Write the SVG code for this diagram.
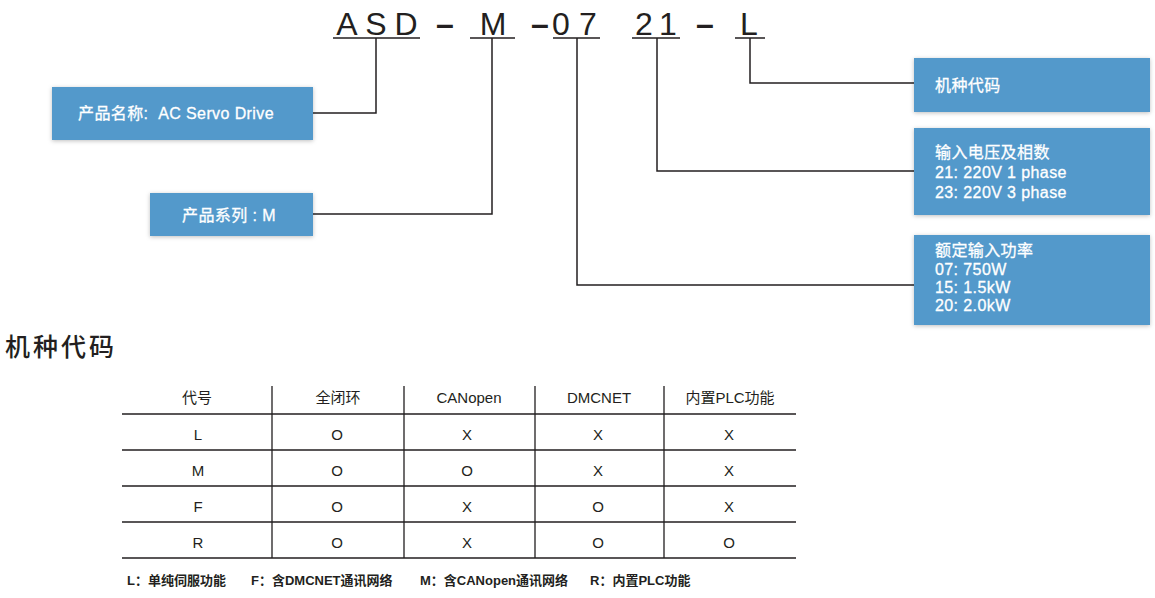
<svg xmlns="http://www.w3.org/2000/svg" width="1155" height="598" viewBox="0 0 1155 598">
<style>
.code{font-family:"Liberation Sans",Arial,sans-serif;font-size:32px;fill:#231f20;text-anchor:middle}
.dash{font-weight:bold}
.box{fill:#5299cb;filter:url(#sh)}
.bt{font-family:"Liberation Sans","Noto Sans CJK SC",sans-serif;font-size:16px;fill:#fff;stroke:#fff;stroke-width:0.3;letter-spacing:0.4px}
.ln{stroke:#231f20;stroke-width:1.5;fill:none}
.tl{stroke:#231f20;stroke-width:1.3;fill:none}
.tt{font-family:"Liberation Sans","Noto Sans CJK SC",sans-serif;font-size:15px;fill:#231f20;text-anchor:middle}
.ttl{font-family:"Noto Sans CJK SC",sans-serif;font-size:25px;font-weight:500;fill:#231f20;letter-spacing:3px}
.fn{font-family:"Liberation Sans","Noto Sans CJK SC",sans-serif;font-size:13px;fill:#231f20;font-weight:bold}
</style>
<defs>
<filter id="sh" x="-10%" y="-20%" width="120%" height="140%">
<feDropShadow dx="0" dy="1" stdDeviation="2" flood-color="#000" flood-opacity="0.25"/>
</filter>
</defs>
<rect width="1155" height="598" fill="#fff"/>
<g id="code">
<text class="code" x="347" y="35">A</text>
<text class="code" x="376" y="35">S</text>
<text class="code" x="406" y="35">D</text>
<text class="code dash" x="445" y="35">–</text>
<text class="code" x="493" y="35">M</text>
<text class="code dash" x="540" y="35">–</text>
<text class="code" x="561" y="35">0</text>
<text class="code" x="588" y="35">7</text>
<text class="code" x="644" y="35">2</text>
<text class="code" x="668" y="35">1</text>
<text class="code dash" x="705" y="35">–</text>
<text class="code" x="749" y="35">L</text>
<path class="ln" d="M333 38H420M470 38H515M553 38H600M632 38H680M735 38H765"/>
</g>
<g id="connectors">
<path class="ln" d="M376 38V113H313"/>
<path class="ln" d="M492 38V214H313"/>
<path class="ln" d="M750 38V83H914"/>
<path class="ln" d="M657 38V171H914"/>
<path class="ln" d="M577 38V285H914"/>
</g>
<g id="name">
<rect class="box" x="52" y="87" width="261" height="53"/>
<text class="bt" x="78" y="119" xml:space="preserve">产品名称:  AC Servo Drive</text>
</g>
<g id="series">
<rect class="box" x="150" y="193" width="163" height="43"/>
<text class="bt" x="182" y="221">产品系列 : M</text>
</g>
<g id="model">
<rect class="box" x="914" y="58" width="236" height="54"/>
<text class="bt" x="935" y="91">机种代码</text>
</g>
<g id="voltage">
<rect class="box" x="914" y="128" width="236" height="87"/>
<text class="bt" x="935" y="158">输入电压及相数</text>
<text class="bt" x="935" y="178">21: 220V 1 phase</text>
<text class="bt" x="935" y="198">23: 220V 3 phase</text>
</g>
<g id="power">
<rect class="box" x="914" y="235" width="236" height="90"/>
<text class="bt" x="935" y="256">额定输入功率</text>
<text class="bt" x="935" y="275">07: 750W</text>
<text class="bt" x="935" y="293">15: 1.5kW</text>
<text class="bt" x="935" y="311">20: 2.0kW</text>
</g>
<g id="table">
<text class="ttl" x="5" y="356">机种代码</text>
<path class="tl" d="M122 414H796M122 450H796M122 486H796M122 522H796M122 558H796M272 386V558M404 386V558M535 386V558M664 386V558"/>
<text class="tt" x="197" y="403">代号</text>
<text class="tt" x="338" y="403">全闭环</text>
<text class="tt" x="469" y="403">CANopen</text>
<text class="tt" x="599" y="403">DMCNET</text>
<text class="tt" x="730" y="403">内置PLC功能</text>
<text class="tt" x="198" y="440">L</text><text class="tt" x="337" y="440">O</text><text class="tt" x="467" y="440">X</text><text class="tt" x="598" y="440">X</text><text class="tt" x="729" y="440">X</text>
<text class="tt" x="198" y="476">M</text><text class="tt" x="337" y="476">O</text><text class="tt" x="467" y="476">O</text><text class="tt" x="598" y="476">X</text><text class="tt" x="729" y="476">X</text>
<text class="tt" x="198" y="512">F</text><text class="tt" x="337" y="512">O</text><text class="tt" x="467" y="512">X</text><text class="tt" x="598" y="512">O</text><text class="tt" x="729" y="512">X</text>
<text class="tt" x="198" y="548">R</text><text class="tt" x="337" y="548">O</text><text class="tt" x="467" y="548">X</text><text class="tt" x="598" y="548">O</text><text class="tt" x="729" y="548">O</text>
</g>
<g id="legend">
<text class="fn" x="127" y="585">L：单纯伺服功能</text>
<text class="fn" x="251" y="585">F：含DMCNET通讯网络</text>
<text class="fn" x="420" y="585">M：含CANopen通讯网络</text>
<text class="fn" x="590" y="585">R：内置PLC功能</text>
</g>
</svg>
